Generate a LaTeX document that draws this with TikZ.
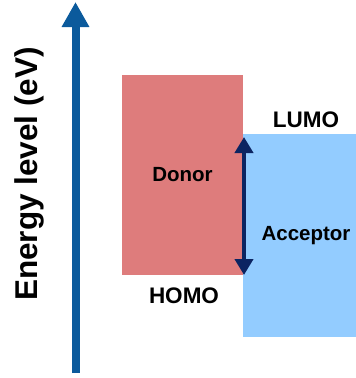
\documentclass[tikz,border=0pt]{standalone}
\usepackage{fontspec}
\setmainfont{Liberation Sans}
\usetikzlibrary{arrows.meta}
\definecolor{donorred}{HTML}{DE7C7C}
\definecolor{accblue}{HTML}{93CCFF}
\definecolor{axisblue}{HTML}{0B5A9C}
\definecolor{navy}{HTML}{0B2462}
\tikzset{
  band/.style={draw=none, inner sep=0pt, outer sep=0pt},
  lbl/.style={font=\bfseries\fontsize{22.5}{26}\selectfont, inner sep=0pt},
  mlbl/.style={font=\bfseries\fontsize{20.5}{24}\selectfont, inner sep=0pt},
  axisarrow/.style={draw=axisblue, line width=8pt, -{Triangle[width=26pt,length=25pt]}},
  gaparrow/.style={draw=navy, line width=4.2pt, {Triangle[width=18pt,length=16pt]}-{Triangle[width=18pt,length=16pt]}}
}
\begin{document}
\begin{tikzpicture}[x=1pt,y=-1pt]
\useasboundingbox (0,0) rectangle (356,378);
% bands
\node[band, fill=donorred, minimum width=121pt, minimum height=200pt, mlbl] (donor) at (182.5,175) {Donor};
\node[band, fill=accblue, minimum width=113pt, minimum height=203pt] (acceptor) at (299.5,235.5) {};
\node[mlbl] (acclbl) at (306,236) {Acceptor};
\node[lbl] (lumo) at (306,119.5) {LUMO};
\node[lbl] (homo) at (184,295.5) {HOMO};
% energy gap arrow
\draw[gaparrow] ([xshift=1pt,yshift=-3pt]acceptor.north west) -- ([xshift=1pt]donor.south east);
% axis
\coordinate (axb) at (75.5,373);
\coordinate (axt) at (75.5,2);
\draw[axisarrow] (axb) -- (axt);
\node[rotate=90, anchor=base, font=\bfseries\fontsize{31.5}{36}\selectfont, inner sep=0pt] (elabel) at (37,174) {Energy level (eV)};
\end{tikzpicture}
\end{document}
